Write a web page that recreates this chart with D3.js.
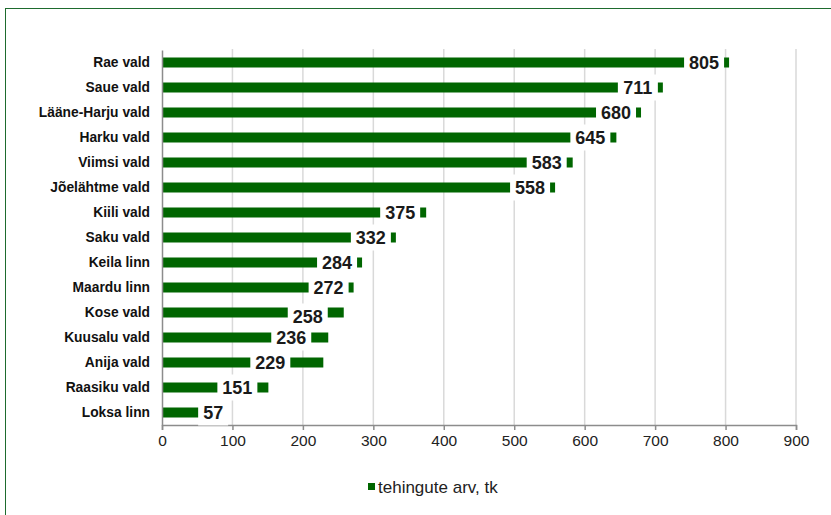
<!DOCTYPE html>
<html>
<head>
<meta charset="utf-8">
<script src="https://cdn.jsdelivr.net/npm/d3@7"></script>
<style>
  body { margin: 0; background: #fff; }
  svg { display: block; font-family: "Liberation Sans", Arial, sans-serif; }
</style>
</head>
<body>
<div id="graphic"></div>
<script>
// data
var places = ["Rae vald", "Saue vald", "Lääne-Harju vald", "Harku vald", "Viimsi vald",
    "Jõelähtme vald", "Kiili vald", "Saku vald", "Keila linn", "Maardu linn",
    "Kose vald", "Kuusalu vald", "Anija vald", "Raasiku vald", "Loksa linn"];
var deals = [805, 711, 680, 645, 583, 558, 375, 332, 284, 272, 258, 236, 229, 151, 57];
var xTicks = [0, 100, 200, 300, 400, 500, 600, 700, 800, 900];
var seriesName = "tehingute arv, tk";

// hand-placed label boxes: px gap between box right edge and bar end, and vertical nudge
var labelGap = [5, 5, 5, 6, 6, 5, 6, 5, 5, 5, 16, 17, 33, 11, -26];
var labelDy = [0, 0, 0, 0, 0, 0, 0, 0, 0, 0, 4, 0, 0, 0, 0];

var W = 831, H = 515;
var margin = { top: 50, right: 35, bottom: 90, left: 162 };
var green = "#006600";

var svg = d3.select("#graphic").append("svg")
    .attr("width", W)
    .attr("height", H);

// outer frame
svg.append("rect")
    .attr("x", 5.5).attr("y", 8.5)
    .attr("width", 900).attr("height", 600)
    .attr("fill", "none")
    .attr("stroke", "#1e6b2e")
    .attr("stroke-width", 1);

var x = d3.scaleLinear()
    .domain([0, 900])
    .range([margin.left, 796]);

var y = d3.scaleBand()
    .domain(places)
    .range([margin.top, 425])
    .paddingInner(0.6)
    .paddingOuter(0.3);

// gridlines
svg.append("g")
    .selectAll("line")
    .data(xTicks.slice(1))
    .enter()
    .append("line")
    .attr("x1", function (d) { return x(d); })
    .attr("x2", function (d) { return x(d); })
    .attr("y1", margin.top - 1)
    .attr("y2", 425)
    .attr("stroke", "#d9d9d9")
    .attr("stroke-width", 1.5);

// bars
svg.append("g")
    .selectAll("rect")
    .data(deals)
    .enter()
    .append("rect")
    .attr("x", x(0))
    .attr("y", function (d, i) { return y(places[i]); })
    .attr("width", function (d) { return x(d) - x(0); })
    .attr("height", y.bandwidth())
    .attr("fill", green);

// bottom axis
var xAxis = svg.append("g")
    .attr("transform", "translate(0,425)")
    .call(d3.axisBottom(x).tickValues(xTicks).tickSize(5).tickPadding(5));
xAxis.select(".domain").attr("stroke", "#8c8c8c").attr("stroke-width", 1.5);
xAxis.selectAll(".tick line").attr("stroke", "#8c8c8c").attr("stroke-width", 1.5);
xAxis.selectAll(".tick text")
    .attr("fill", "#222")
    .attr("font-size", "15.5px")
    .attr("font-family", "'Liberation Sans', Arial, sans-serif");

// left axis
var yAxis = svg.append("g")
    .attr("transform", "translate(" + x(0) + ",0)")
    .call(d3.axisLeft(y).tickSize(0).tickPadding(12));
yAxis.select(".domain").attr("stroke", "#8c8c8c").attr("stroke-width", 1.5);
yAxis.selectAll(".tick text")
    .attr("fill", "#111")
    .attr("font-size", "13.8px")
    .attr("font-weight", "bold")
    .attr("font-family", "'Liberation Sans', Arial, sans-serif");

// value labels with white boxes
var labels = svg.append("g")
    .selectAll("g")
    .data(deals)
    .enter()
    .append("g");

labels.each(function (d, i) {
    var g = d3.select(this);
    var txt = String(d);
    var boxW = txt.length * 10 + 10;
    var right = x(d) - labelGap[i];
    var cy = y(places[i]) + y.bandwidth() / 2 + labelDy[i];
    g.append("rect")
        .attr("x", right - boxW)
        .attr("y", cy - 13)
        .attr("width", boxW)
        .attr("height", 26)
        .attr("fill", "#fff");
    g.append("text")
        .attr("x", right - boxW / 2)
        .attr("y", cy)
        .attr("dy", "0.36em")
        .attr("text-anchor", "middle")
        .attr("font-size", "18px")
        .attr("font-weight", "bold")
        .attr("fill", "#1a1a1a")
        .text(txt);
});

// legend
var legend = svg.append("g").attr("transform", "translate(368,487)");
legend.append("rect")
    .attr("x", 0).attr("y", -4)
    .attr("width", 7).attr("height", 7)
    .attr("fill", green);
legend.append("text")
    .attr("x", 10)
    .attr("y", 0)
    .attr("dy", "0.35em")
    .attr("font-size", "17px")
    .attr("fill", "#222")
    .text(seriesName);
</script>
</body>
</html>
